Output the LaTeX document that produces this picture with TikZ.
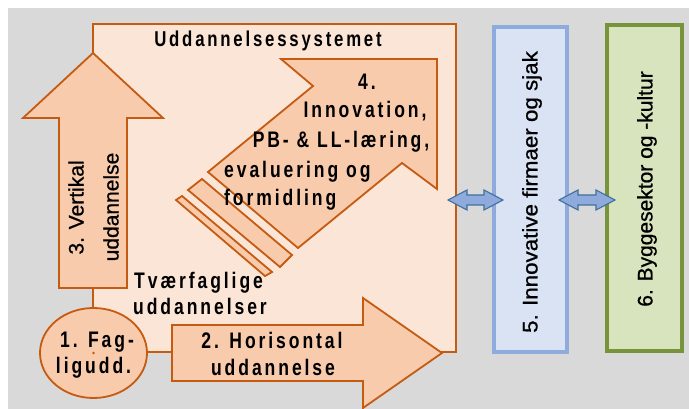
\documentclass[tikz,border=0pt]{standalone}
\usepackage{fontspec}
\setmainfont{Liberation Sans}
\newfontfamily\headfont[FakeStretch=0.78,LetterSpace=13]{Liberation Sans}
\newfontfamily\sidefont[FakeBold=0.8]{Liberation Sans}
\usetikzlibrary{calc,shapes.geometric}

\definecolor{bggray}{HTML}{D9D9D9}
\definecolor{peachlight}{HTML}{FBE5D6}
\definecolor{peach}{HTML}{F8CBAD}
\definecolor{edgeorange}{HTML}{C55A11}
\definecolor{bluefill}{HTML}{DAE3F3}
\definecolor{blueedge}{HTML}{8FAADC}
\definecolor{greenfill}{HTML}{D7E4BD}
\definecolor{greenedge}{HTML}{77933C}
\definecolor{linkfill}{HTML}{8FAADC}
\definecolor{linkedge}{HTML}{41719C}

\tikzset{
  orangeline/.style={draw=edgeorange, line width=1.8pt, line join=miter},
  sysbox/.style={orangeline, fill=peachlight, inner sep=0pt},
  arrowshape/.style={orangeline, fill=peach},
  headtext/.style={font=\headfont\bfseries\fontsize{22.5}{25}\selectfont,
                   inner sep=0pt, anchor=base},
  titletext/.style={headtext, font=\headfont\bfseries\fontsize{21.5}{24}\selectfont},
  sidetext/.style={font=\sidefont\fontsize{21}{24}\selectfont, inner sep=0pt, rotate=90},
  partnerbox/.style={line width=4pt, inner sep=0pt},
  linkarrow/.style={draw=linkedge, line width=1.1pt, fill=linkfill, line join=miter},
}

% horizontal two-headed link arrow between two named end points
\newcommand\linkbetween[2]{%
  \draw[linkarrow] (#1) -- ++(19,-10) -- ++(0,5) -- ($(#2)+(-19,-5)$)
    -- ++(0,-5) -- (#2) -- ++(-19,10) -- ++(0,-5) -- ($(#1)+(19,5)$)
    -- ++(0,5) -- cycle;}

\begin{document}
\begin{tikzpicture}[x=1pt,y=-1pt]
  \useasboundingbox (0,0) rectangle (689,409);
  \fill[white] (0,0) rectangle (689,409);
  \fill[bggray] (8,8) rectangle (689,409);

  % education system frame
  \node[sysbox, minimum width=363, minimum height=328] (sys) at (274.5,188) {};
  \node[titletext] (title) at (268,47) {Uddannelsessystemet};

  % arrow 4 with its trailing strips
  \draw[arrowshape] (437,59) -- (437,189) -- (402,163) -- (298,248)
    -- (208,172) -- (313,86) -- (281,59) -- cycle;
  \draw[arrowshape] (202,179) -- (292,255) -- (280,267) -- (188,190) -- cycle;
  \draw[arrowshape] (182,196) -- (272,272) -- (265,276) -- (176,200) -- cycle;

  % vertical arrow 3
  \draw[arrowshape] (93,53) -- (163,118) -- (127,118) -- (127,288)
    -- (59,288) -- (59,118) -- (23,118) -- cycle;

  % horizontal arrow 2
  \draw[arrowshape] (172,325) -- (363,325) -- (363,298) -- (442,353)
    -- (363,408) -- (363,381) -- (172,381) -- cycle;

  % subject education
  \node[ellipse, arrowshape, minimum width=107, minimum height=90, inner sep=0pt]
    (fag) at (93.5,353) {};
  \fill[edgeorange] (fag.center) circle (1.3);

  % texts inside the education system
  \node[headtext] (t4) at (367,90) {4.};
  \node[headtext] (t4b) at (365,118) {Innovation,};
  \node[headtext] (t4c) at (341,148) {PB- \& LL-læring,};
  \node[headtext, anchor=base west] (t4d) at (224,178) {evaluering og};
  \node[headtext, anchor=base west] (t4e) at (224,206) {formidling};
  \node[headtext, anchor=base west] (tv1) at (134,288) {Tværfaglige};
  \node[headtext, anchor=base west] (tv2) at (133,315) {uddannelser};
  \node[headtext] (f1) at (97,347) {1. Fag-};
  \node[headtext] (f2) at (93.5,373) {ligudd.};
  \node[headtext] (h1) at (272,348) {2. Horisontal};
  \node[headtext] (h2) at (273,375) {uddannelse};
  \node[sidetext] (v1) at (76,207.5) {3. Vertikal};
  \node[sidetext] (v2) at (111,207) {uddannelse};

  % partner boxes
  \node[partnerbox, draw=blueedge, fill=bluefill, minimum width=73,
        minimum height=325] (b5) at (530.5,189.5) {};
  \node[sidetext] (b5t) at (532,192)
    {\scalebox{1.065}[1]{5. Innovative firmaer og sjak}};
  \node[partnerbox, draw=greenedge, fill=greenfill, minimum width=75,
        minimum height=326] (b6) at (644.5,188) {};
  \node[sidetext] (b6t) at (647,189) {6. Byggesektor og -kultur};

  % links between system, firms and sector
  \coordinate (l1a) at (448,200);
  \coordinate (l1b) at (503,200);
  \coordinate (l2a) at (559,200);
  \coordinate (l2b) at (615,200);
  \linkbetween{l1a}{l1b}
  \linkbetween{l2a}{l2b}
\end{tikzpicture}
\end{document}
